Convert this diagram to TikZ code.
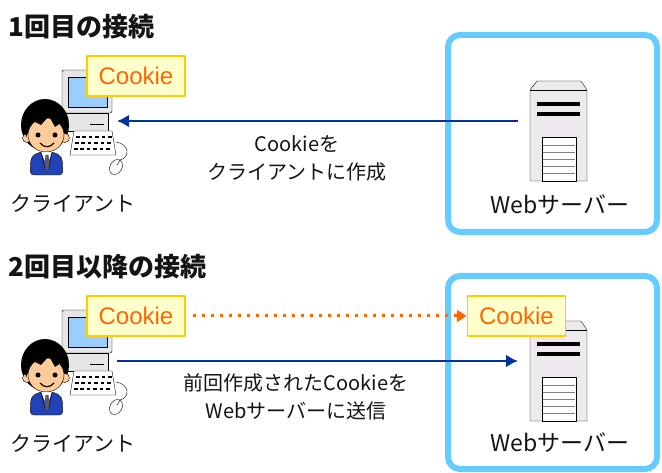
\documentclass[tikz,border=0pt]{standalone}
\usepackage{fontspec}
\setmainfont{Noto Sans CJK JP}
\newfontfamily\latinsans{Liberation Sans}
\usepackage{tikz}
\usetikzlibrary{arrows.meta,positioning}
\definecolor{frameblue}{HTML}{66CCFF}
\definecolor{ckfill}{HTML}{FFFFCC}
\definecolor{ckline}{HTML}{FFCC00}
\definecolor{cktext}{HTML}{FF6600}
\definecolor{arrblue}{HTML}{003399}
\definecolor{skin}{HTML}{FFCC99}
\definecolor{suit}{HTML}{2442B8}
\definecolor{pcgray}{HTML}{E6E6E6}
\definecolor{screen}{HTML}{99CCFF}
\definecolor{srvbody}{HTML}{EEE9EE}
\definecolor{doorline}{HTML}{8C7B7B}
\definecolor{ink}{HTML}{141414}
\newcommand{\fs}[1]{\fontsize{#1}{#1}\selectfont}

\tikzset{
  client/.pic={
    % computer: monitor, body, keyboard, mouse
    \draw[fill=pcgray,rounded corners=2pt] (62,70) rectangle (112,113);
    \draw[fill=screen] (68,77) rectangle (107,107);
    \draw[fill=pcgray] (64,113) rectangle (108,131);
    \draw (90,124) -- (104,124);
    \draw[fill=white] (74,131) -- (112,131) -- (116,155) -- (70,155) -- cycle;
    \foreach \r/\s in {137/0,143/-1,149/-2}
      \foreach \k in {0,...,5}
        \draw[line width=1.2pt] ({76+\s+\k*6.4},\r) -- ++(3.5,0);
    \draw (116,142) .. controls (130,144) and (130,158) .. (120,160);
    \draw[fill=white,rotate around={-30:(116,167)}] (116,167) ellipse (6 and 8);
    \draw[rotate around={-30:(116,167)}] (116,159) -- (116,165);
    % person
    \fill[black] (45,125) ellipse (24 and 26);
    \draw[fill=skin] (27,138) circle (4.5);
    \draw[fill=skin] (65,138) circle (4.5);
    \draw[fill=skin] (46,135) ellipse (18 and 17);
    \fill[black] (26,138) .. controls (20,96) and (72,96) .. (66,134)
      -- (62,122) -- (55,127) -- (49,116) -- (41,125) -- (31,120) -- cycle;
    \fill (38,135) circle (2.5);
    \fill (55,135) circle (2.5);
    \draw[line width=1.2pt] (40,143) .. controls (44,148) and (50,148) .. (54,143);
    \draw[fill=suit,rounded corners=4pt] (30,175) -- (31,157) -- (39,152)
      -- (54,152) -- (62,157) -- (63,175) -- cycle;
    \fill[white] (41,152) -- (52,152) -- (47,166) -- cycle;
    \fill[ink!70] (45.5,155) -- (48.5,155) -- (49.5,166) -- (47,171) -- (44.5,166) -- cycle;
    \draw (41,152) -- (45,168);
    \draw (52,152) -- (49,168);
    \coordinate (-port) at (117,121);
  },
  server/.pic={
    \draw[fill=srvbody] (530,90) -- (537,81) -- (581,81) -- (587,90)
      -- (587,181) -- (530,181) -- cycle;
    \draw (530,90) -- (587,90);
    \fill (537,102) rectangle (580,106);
    \fill (537,112) rectangle (580,116);
    \draw[fill=white] (542,137) rectangle (576,181);
    \foreach \y in {145,152,159,166,173}
      \draw[doorline] (543,\y) -- (575,\y);
    \coordinate (-port) at (518,121);
  }
}

\begin{document}
\begin{tikzpicture}[x=1pt,y=-1pt,line join=round,
  head/.style={font=\fs{26}\bfseries,text=ink,anchor=west,inner sep=0pt},
  caption/.style={font=\fs{21},text=ink,inner sep=0pt},
  msg/.style={font=\fs{20},text=ink,align=center,inner sep=0pt},
  cookie/.style={draw=ckline,fill=ckfill,line width=1.5pt,minimum width=98pt,minimum height=40pt,inner sep=0pt,font=\latinsans\fs{24},text=cktext},
  frame/.style={draw=frameblue,line width=6pt,rounded corners=12pt},
  arr/.style={arrblue,line width=2.5pt,-{Latex[length=12pt,width=13pt]}},
  dotarr/.style={cktext,line width=3pt,dash pattern=on 3pt off 6pt,-{Triangle[length=10pt,width=12pt]}}]
\useasboundingbox (0,0) rectangle (662,473);

% first connection
\node[head] (h1) at (8,27) {1回目の接続};
\draw[frame] (448,35) rectangle (657,232);
\pic (srv1) at (0,0) {server};
\pic (cl1) at (0,0) {client};
\node[cookie] (ck1) at (136,76) {Cookie};
\draw[arr] (srv1-port) -- (cl1-port);
\node[msg] (m1) at (297,158) {Cookieを\\[8pt]クライアントに作成};
\node[caption] (c1) at (73,203) {クライアント};
\node[caption,font=\fs{23}] (w1) at (560,205) {Webサーバー};

% second and later connections
\node[head] (h2) at (8,267) {2回目以降の接続};
\draw[frame] (448,276) rectangle (657,469);
\pic (srv2) at (0,240) {server};
\pic (cl2) at (0,240) {client};
\node[cookie] (ck2) at (136,316) {Cookie};
\node[cookie,right=281pt of ck2] (ck3) {Cookie};
\draw[dotarr,shorten <=7pt] (ck2) -- (ck3);
\draw[arr] (cl2-port) -- (srv2-port);
\node[msg] (m2) at (296,397) {前回作成されたCookieを\\[8pt]Webサーバーに送信};
\node[caption] (c2) at (73,443) {クライアント};
\node[caption,font=\fs{23}] (w2) at (560,443) {Webサーバー};
\end{tikzpicture}
\end{document}
